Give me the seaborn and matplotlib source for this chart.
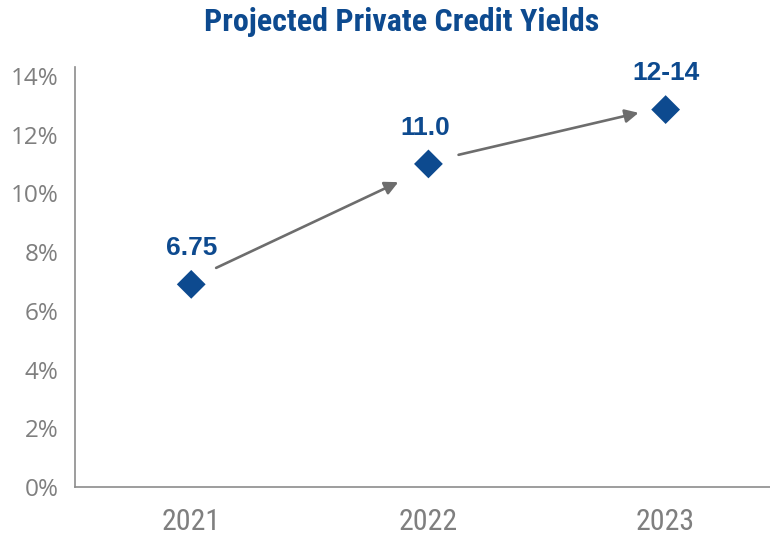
import matplotlib
matplotlib.use("Agg")
import matplotlib.pyplot as plt
from matplotlib import font_manager as fm
import seaborn as sns
import pandas as pd
import os

years = ["2021", "2022", "2023"]
yields = [6.9, 11.0, 12.85]
labels = ["6.75", "11.0", "12-14"]
yticks = [0, 2, 4, 6, 8, 10, 12, 14]

BLUE = "#0d4a8f"
GRAY = "#7f7f7f"
ARROW = "#6d6d6d"

sns.set_theme(style="white")
plt.rcParams["font.family"] = ["Open Sans", "DejaVu Sans"]

files = [f.fname for f in fm.fontManager.ttflist]


def font_by_file(keys, size, fallback, weight="normal"):
    for key in keys:
        for fn in files:
            if os.path.basename(fn).lower() == key.lower():
                return fm.FontProperties(fname=fn, size=size)
    return fm.FontProperties(family=fallback, size=size, weight=weight)


fp_title = font_by_file(["RobotoCondensed-Bold.ttf"], 23, "Roboto Condensed", "bold")
fp_xtick = font_by_file(["RobotoCondensed-Regular.ttf"], 21.5, "Roboto Condensed")
fp_ytick = font_by_file(["OpenSans-Regular.ttf"], 17.5, "Open Sans")
fp_lab = font_by_file(["LiberationSans-Bold.ttf"], 19, "Liberation Sans", "bold")

df = pd.DataFrame({"year": years, "yield": yields})

fig = plt.figure(figsize=(7.7, 5.35), dpi=100)
ax = fig.add_axes([75/770, 1-487/535, 1-75/770, (487-67)/535])

sns.scatterplot(data=df, x="year", y="yield", marker="D", s=215,
                color=BLUE, edgecolor="none", ax=ax, zorder=3)

ax.set_xlim(-0.49, 2.44)
ax.set_ylim(0, 14.3)
ax.set_yticks(yticks)
ax.set_yticklabels([f"{v}%" for v in yticks], color=GRAY, fontproperties=fp_ytick)
ax.set_xticks(range(len(years)))
ax.set_xticklabels(years, color=GRAY, fontproperties=fp_xtick)
ax.tick_params(axis="y", length=0, pad=12)
ax.tick_params(axis="x", length=0, pad=15)
ax.set_xlabel("")
ax.set_ylabel("")

for side in ["top", "right"]:
    ax.spines[side].set_visible(False)
for side in ["left", "bottom"]:
    ax.spines[side].set_color("#8c8c8c")
    ax.spines[side].set_linewidth(1.2)

for i, (v, lab) in enumerate(zip(yields, labels)):
    ax.annotate(lab, (i, v), xytext=(-2 if i == 1 else 0, 26), textcoords="offset points",
                ha="center", va="center", color=BLUE, fontproperties=fp_lab)

# arrows between consecutive points (offsets relative to the markers)
arrow_offsets = [((0.105, 0.56), (-0.127, -0.62)),
                 ((0.127, 0.31), (-0.114, -0.11))]
for i, ((sx, sy), (ex, ey)) in enumerate(arrow_offsets):
    ax.annotate("", xy=(i + 1 + ex, yields[i + 1] + ey),
                xytext=(i + sx, yields[i] + sy),
                arrowprops=dict(arrowstyle="-|>", color=ARROW, lw=1.9,
                                mutation_scale=20, shrinkA=0, shrinkB=0))

fig.text(402/770, 1-22/535, "Projected Private Credit Yields", ha="center", va="center",
         color=BLUE, fontproperties=fp_title)

fig.savefig("out.png", dpi=100)
